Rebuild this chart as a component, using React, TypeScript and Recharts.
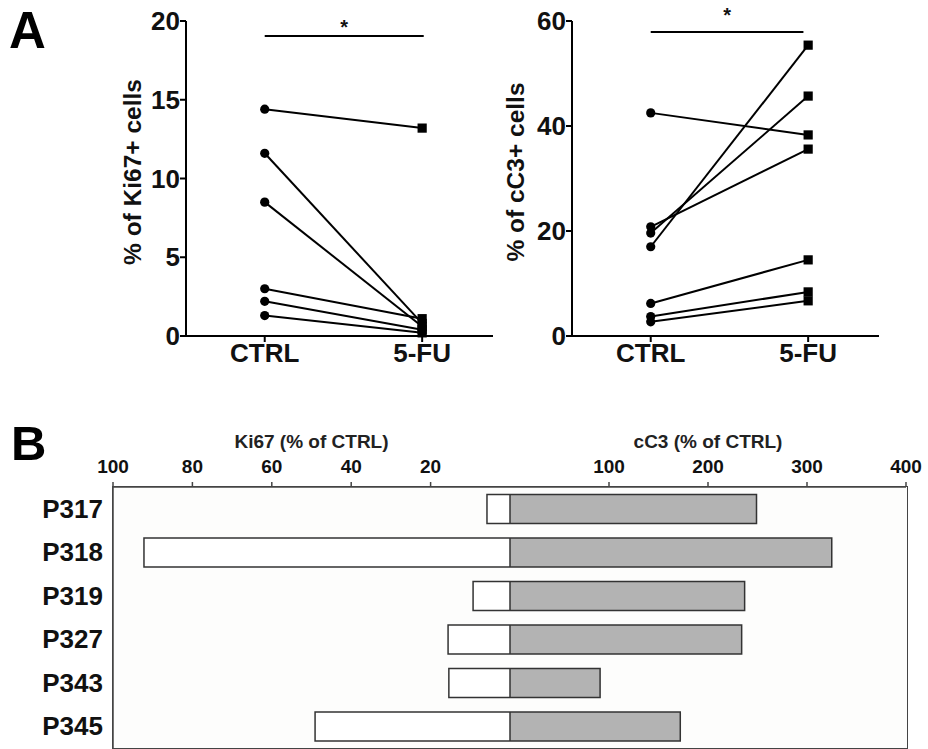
import { LineChart, Line, XAxis, YAxis, ReferenceLine, BarChart, Bar, Label } from 'recharts';

// panel A: paired values per tumour, CTRL vs 5-FU
const groups = ['CTRL', '5-FU'];
const ki67Ctrl = [14.4, 11.6, 8.5, 3.0, 2.2, 1.3];
const ki67Fu = [13.2, 0.8, 0.6, 1.1, 0.4, 0.2];
const ki67Ticks = [0, 5, 10, 15, 20];
const cc3Ctrl = [42.5, 20.8, 19.6, 17.0, 6.2, 3.7, 2.7];
const cc3Fu = [38.3, 35.6, 45.7, 55.4, 14.5, 8.4, 6.7];
const cc3Ticks = [0, 20, 40, 60];

// panel B: % of CTRL per patient
const patients = ['P317', 'P318', 'P319', 'P327', 'P343', 'P345'];
const ki67Pct = [5.8, 92.2, 9.3, 15.6, 15.4, 49.1];
const cc3Pct = [249, 325, 237, 234, 91, 172];
const ki67PctTicks = [100, 80, 60, 40, 20];
const cc3PctTicks = [100, 200, 300, 400];

const FONT = '"Liberation Sans", Arial, sans-serif';

const pairRows = (a: number[], b: number[]) =>
  [a, b].map((vals, g) => {
    const row: Record<string, number> = { g };
    vals.forEach((v, i) => (row['s' + i] = v));
    return row;
  });

const barRows = patients.map((name, i) => ({ name, ki67: ki67Pct[i], cc3: cc3Pct[i] }));

const PairDot = (props: any) => {
  const { cx, cy, index } = props;
  if (cx == null || cy == null) return null;
  if (index === 0) return <circle key={props.key} cx={cx} cy={cy} r={4.6} fill="#000" />;
  return <rect key={props.key} x={cx - 4.6} y={cy - 4.6} width={9.2} height={9.2} fill="#000" />;
};

const axisTick = { fontSize: 26, fontWeight: 700, fill: '#111', fontFamily: FONT };

interface PairProps {
  left: number;
  yWidth: number;
  ctrl: number[];
  fu: number[];
  ticks: number[];
  title: string;
  sigY: number;
  sigEnd: number;
  sigOffset: number;
}

const PairedPanel = ({ left, yWidth, ctrl, fu, ticks, title, sigY, sigEnd, sigOffset }: PairProps) => {
  const data = pairRows(ctrl, fu);
  return (
    <div style={{ position: 'absolute', left, top: 0 }}>
      <LineChart width={yWidth + 307 + 17} height={380} data={data} margin={{ top: 21, right: 17, bottom: 4, left: 0 }}>
        <XAxis
          dataKey="g"
          type="number"
          domain={[-0.5, 1.45]}
          ticks={[0, 1]}
          tickFormatter={(v) => groups[v]}
          height={40}
          axisLine={{ stroke: '#000', strokeWidth: 2 }}
          tickLine={{ stroke: '#000', strokeWidth: 2 }}
          tickSize={6}
          tickMargin={2}
          tick={axisTick}
        />
        <YAxis
          type="number"
          domain={[0, ticks[ticks.length - 1]]}
          ticks={ticks}
          width={yWidth}
          axisLine={{ stroke: '#000', strokeWidth: 2 }}
          tickLine={{ stroke: '#000', strokeWidth: 2 }}
          tickSize={6}
          tickMargin={0}
          tick={axisTick}
        >
          <Label
            content={(p: any) => {
              const vb = p.viewBox;
              const x = vb.x + vb.width / 2;
              const y = vb.y + vb.height / 2 - 6.5;
              return (
                <text
                  x={x}
                  y={y}
                  transform={`rotate(-90 ${x} ${y})`}
                  textAnchor="middle"
                  dominantBaseline="central"
                  fontSize={24.5}
                  fontWeight={700}
                  fill="#111"
                  fontFamily={FONT}
                >
                  {title}
                </text>
              );
            }}
          />
        </YAxis>
        <ReferenceLine
          segment={[{ x: 0, y: sigY }, { x: sigEnd, y: sigY }]}
          stroke="#000"
          strokeWidth={2}
          label={{ value: '*', position: 'top', offset: sigOffset, fontSize: 20, fontWeight: 700, fill: '#111', fontFamily: FONT }}
        />
        {ctrl.map((_, i) => (
          <Line
            key={i}
            dataKey={'s' + i}
            stroke="#000"
            strokeWidth={2}
            dot={PairDot}
            activeDot={false}
            isAnimationActive={false}
          />
        ))}
      </LineChart>
    </div>
  );
};

const barTick = { fontSize: 19, fontWeight: 700, fill: '#111', fontFamily: FONT };

const AxisTitle = (title: string) => (p: any) => {
  const vb = p.viewBox;
  return (
    <text x={vb.x + vb.width / 2} y={28} textAnchor="middle" fontSize={19} fontWeight={700} fill="#222" fontFamily={FONT}>
      {title}
    </text>
  );
};

export default function App() {
  return (
    <div style={{ position: 'absolute', left: 0, top: 0, width: 928, height: 749, background: '#fff', fontFamily: FONT }}>
      <div style={{ position: 'absolute', left: 9, top: 1, fontSize: 51, lineHeight: '60px', fontWeight: 700, color: '#000' }}>A</div>
      <div style={{ position: 'absolute', left: 11, top: 414, fontSize: 49, lineHeight: '58px', fontWeight: 700, color: '#000' }}>B</div>

      <PairedPanel left={78} yWidth={108} ctrl={ki67Ctrl} fu={ki67Fu} ticks={ki67Ticks} title="% of Ki67+ cells" sigY={19.05} sigEnd={1.01} sigOffset={2} />
      <PairedPanel left={458} yWidth={114} ctrl={cc3Ctrl} fu={cc3Fu} ticks={cc3Ticks} title="% of cC3+ cells" sigY={57.9} sigEnd={0.97} sigOffset={10} />

      {/* panel B frame */}
      <div style={{ position: 'absolute', left: 112, top: 486, width: 794, height: 261, background: '#fdfdfc', border: '1.5px solid #444' }} />

      <div style={{ position: 'absolute', left: 0, top: 420 }}>
        <BarChart layout="vertical" width={510} height={328} data={barRows} margin={{ top: 0, right: 0, bottom: 0, left: 0 }} barCategoryGap="17%">
          <XAxis
            type="number"
            orientation="top"
            domain={[0, 100]}
            reversed
            ticks={ki67PctTicks}
            height={67}
            axisLine={{ stroke: '#444', strokeWidth: 1.5 }}
            tickLine={{ stroke: '#444', strokeWidth: 1.5 }}
            tickSize={5}
            tickMargin={9}
            tick={barTick}
          >
            <Label content={AxisTitle('Ki67 (% of CTRL)')} />
          </XAxis>
          <YAxis
            type="category"
            dataKey="name"
            width={113}
            axisLine={{ stroke: '#444', strokeWidth: 1.5 }}
            tickLine={false}
            tickSize={0}
            tickMargin={10}
            tick={{ fontSize: 26, fontWeight: 700, fill: '#111', fontFamily: FONT }}
          />
          <Bar dataKey="ki67" fill="#fff" stroke="#333" strokeWidth={1.5} isAnimationActive={false} />
        </BarChart>
      </div>

      <div style={{ position: 'absolute', left: 510, top: 420 }}>
        <BarChart layout="vertical" width={418} height={328} data={barRows} margin={{ top: 0, right: 22, bottom: 0, left: 0 }} barCategoryGap="17%">
          <XAxis
            type="number"
            orientation="top"
            domain={[0, 400]}
            ticks={cc3PctTicks}
            height={67}
            axisLine={{ stroke: '#444', strokeWidth: 1.5 }}
            tickLine={{ stroke: '#444', strokeWidth: 1.5 }}
            tickSize={5}
            tickMargin={9}
            tick={barTick}
          >
            <Label content={AxisTitle('cC3 (% of CTRL)')} />
          </XAxis>
          <YAxis type="category" dataKey="name" width={0} tick={false} tickLine={false} axisLine={{ stroke: '#111', strokeWidth: 2.5 }} />
          <Bar dataKey="cc3" fill="#b3b3b3" stroke="#333" strokeWidth={1.5} isAnimationActive={false} />
        </BarChart>
      </div>
    </div>
  );
}
